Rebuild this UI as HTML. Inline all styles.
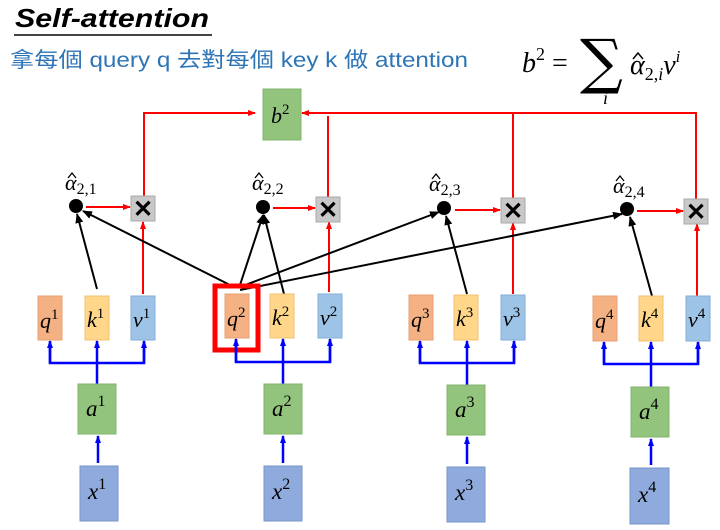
<!DOCTYPE html><html><head><style>body{margin:0;background:#fff}svg{display:block}</style></head><body>
<svg width="720" height="530" xmlns="http://www.w3.org/2000/svg" font-family="'Liberation Serif',serif">
<defs>
<marker id="r" markerWidth="8" markerHeight="8" refX="7" refY="4" orient="auto" markerUnits="userSpaceOnUse"><path d="M0,1 L8,4 L0,7z" fill="#f00"/></marker>
<marker id="b" markerWidth="8" markerHeight="8" refX="7" refY="4" orient="auto" markerUnits="userSpaceOnUse"><path d="M0,1 L8,4 L0,7z" fill="#00f"/></marker>
<marker id="k" markerWidth="10" markerHeight="10" refX="9" refY="5" orient="auto" markerUnits="userSpaceOnUse"><path d="M0,1 L10,5 L0,9z" fill="#000"/></marker>
</defs>
<text x="15" y="27" font-family="'Liberation Sans',sans-serif" font-size="26" font-weight="bold" font-style="italic" textLength="194" lengthAdjust="spacingAndGlyphs">Self-attention</text>
<line x1="14" y1="35" x2="212" y2="35" stroke="#444" stroke-width="2"/>
<text x="10" y="67" font-family="'Liberation Sans','Noto Sans CJK TC',sans-serif" font-size="21" fill="#2e75b6" textLength="458" lengthAdjust="spacingAndGlyphs">拿每個 query q 去對每個  key k 做 attention</text>
<text x="522" y="72" font-size="28" font-style="italic">b<tspan font-size="18" dy="-12" font-style="normal">2</tspan><tspan dy="12" font-style="normal"> = </tspan></text>
<text x="580" y="82" font-size="60" font-family="'DejaVu Serif',serif">∑</text>
<text x="603" y="104" font-size="18" font-style="italic">i</text>
<text x="630" y="74" font-size="28" font-style="italic">α<tspan font-size="18" dy="6" font-style="normal">2,</tspan><tspan font-size="18">i</tspan><tspan dy="-6">v</tspan><tspan font-size="17" dy="-12">i</tspan></text>
<path d="M633,59 L638,53 L643,59" fill="none" stroke="#000" stroke-width="1.5"/>

<rect x="263" y="89" width="38" height="51" fill="#93c47d" stroke="#82b36c"/>
<text x="271" y="123" font-size="22" font-style="italic">b<tspan font-size="15" dy="-9" font-style="normal">2</tspan></text>
<g stroke="#f00" stroke-width="2" fill="none">
<polyline points="144,196 144,113 255,113" marker-end="url(#r)"/>
<polyline points="696,199 696,113 302,113" marker-end="url(#r)"/>
<line x1="328" y1="197" x2="328" y2="116"/>
<line x1="513" y1="198" x2="513" y2="113"/>
<line x1="86" y1="207" x2="130" y2="207" marker-end="url(#r)"/>
<line x1="273" y1="208" x2="315" y2="208" marker-end="url(#r)"/>
<line x1="455" y1="210" x2="500" y2="210" marker-end="url(#r)"/>
<line x1="637" y1="211" x2="683" y2="211" marker-end="url(#r)"/>
<line x1="143" y1="294" x2="143" y2="222" marker-end="url(#r)"/>
<line x1="329" y1="292" x2="329" y2="222" marker-end="url(#r)"/>
<line x1="513" y1="294" x2="513" y2="223" marker-end="url(#r)"/>
<line x1="697" y1="296" x2="697" y2="224" marker-end="url(#r)"/>
</g>
<g fill="#c8c8c8" stroke="#aaa">
<rect x="131" y="196" width="24" height="25"/><rect x="316" y="197" width="24" height="25"/>
<rect x="501" y="198" width="24" height="25"/><rect x="684" y="199" width="24" height="25"/>
</g>
<g font-family="'Liberation Sans',sans-serif" font-size="24" font-weight="bold" text-anchor="middle">
<text x="143" y="217">✕</text><text x="328" y="218">✕</text><text x="513" y="219">✕</text><text x="696" y="220">✕</text>
</g>
<g fill="#000"><circle cx="76" cy="206" r="7"/><circle cx="263" cy="207" r="7"/><circle cx="444" cy="208" r="7"/><circle cx="627" cy="209" r="7"/></g>
<g font-size="22" font-style="italic">
<text x="65" y="190">α<tspan font-size="16" dy="4" font-style="normal">2,1</tspan></text>
<text x="252" y="190">α<tspan font-size="16" dy="4" font-style="normal">2,2</tspan></text>
<text x="429" y="191">α<tspan font-size="16" dy="4" font-style="normal">2,3</tspan></text>
<text x="613" y="193">α<tspan font-size="16" dy="4" font-style="normal">2,4</tspan></text>
</g>
<g fill="none" stroke="#000" stroke-width="1.3">
<path d="M68,178 L72,173 L76,178"/><path d="M255,178 L259,173 L263,178"/><path d="M432,179 L436,174 L440,179"/><path d="M616,181 L620,176 L624,181"/>
</g>
<g stroke="#000" stroke-width="2">
<line x1="97" y1="289" x2="77" y2="214" marker-end="url(#k)"/>
<line x1="234" y1="287" x2="83" y2="211" marker-end="url(#k)"/>
<line x1="239" y1="288" x2="263" y2="215" marker-end="url(#k)"/>
<line x1="284" y1="294" x2="264" y2="215" marker-end="url(#k)"/>
<line x1="240" y1="287" x2="439" y2="212" marker-end="url(#k)"/>
<line x1="240" y1="290" x2="622" y2="214" marker-end="url(#k)"/>
<line x1="467" y1="294" x2="446" y2="216" marker-end="url(#k)"/>
<line x1="652" y1="296" x2="630" y2="217" marker-end="url(#k)"/>
</g>
<g stroke-width="1">
<rect x="38" y="296" width="24" height="44" fill="#f4b183" stroke="#e8a070"/>
<rect x="85" y="296" width="24" height="44" fill="#ffd68a" stroke="#f0c070"/>
<rect x="131" y="296" width="24" height="44" fill="#9dc3e6" stroke="#85acd6"/>
<rect x="225" y="294" width="24" height="44" fill="#f4b183" stroke="#e8a070"/>
<rect x="270" y="294" width="24" height="44" fill="#ffd68a" stroke="#f0c070"/>
<rect x="318" y="294" width="24" height="44" fill="#9dc3e6" stroke="#85acd6"/>
<rect x="409" y="295" width="24" height="45" fill="#f4b183" stroke="#e8a070"/>
<rect x="454" y="295" width="24" height="45" fill="#ffd68a" stroke="#f0c070"/>
<rect x="501" y="295" width="24" height="45" fill="#9dc3e6" stroke="#85acd6"/>
<rect x="593" y="296" width="24" height="45" fill="#f4b183" stroke="#e8a070"/>
<rect x="639" y="296" width="24" height="45" fill="#ffd68a" stroke="#f0c070"/>
<rect x="686" y="296" width="24" height="45" fill="#9dc3e6" stroke="#85acd6"/>
</g>
<rect x="215" y="286" width="43" height="64" fill="none" stroke="#f00" stroke-width="5"/>
<g font-size="22" font-style="italic">
<text x="40" y="328">q<tspan font-size="15" dy="-9" font-style="normal">1</tspan></text>
<text x="87" y="327">k<tspan font-size="15" dy="-9" font-style="normal">1</tspan></text>
<text x="133" y="327">v<tspan font-size="15" dy="-9" font-style="normal">1</tspan></text>
<text x="227" y="326">q<tspan font-size="15" dy="-9" font-style="normal">2</tspan></text>
<text x="272" y="325">k<tspan font-size="15" dy="-9" font-style="normal">2</tspan></text>
<text x="320" y="325">v<tspan font-size="15" dy="-9" font-style="normal">2</tspan></text>
<text x="411" y="327">q<tspan font-size="15" dy="-9" font-style="normal">3</tspan></text>
<text x="456" y="326">k<tspan font-size="15" dy="-9" font-style="normal">3</tspan></text>
<text x="503" y="326">v<tspan font-size="15" dy="-9" font-style="normal">3</tspan></text>
<text x="595" y="328">q<tspan font-size="15" dy="-9" font-style="normal">4</tspan></text>
<text x="641" y="327">k<tspan font-size="15" dy="-9" font-style="normal">4</tspan></text>
<text x="688" y="327">v<tspan font-size="15" dy="-9" font-style="normal">4</tspan></text>
</g>
<g stroke="#00f" stroke-width="2.5" fill="none">
<polyline points="50,342 50,363 144,363 144,342"/>
<line x1="50" y1="363" x2="50" y2="341" marker-end="url(#b)"/><line x1="97" y1="384" x2="97" y2="341" marker-end="url(#b)"/><line x1="144" y1="363" x2="144" y2="341" marker-end="url(#b)"/>
<polyline points="236,340 236,362 330,362 330,340"/>
<line x1="236" y1="362" x2="236" y2="339" marker-end="url(#b)"/><line x1="283" y1="384" x2="283" y2="339" marker-end="url(#b)"/><line x1="330" y1="362" x2="330" y2="339" marker-end="url(#b)"/>
<polyline points="420,342 420,363 514,363 514,342"/>
<line x1="420" y1="363" x2="420" y2="341" marker-end="url(#b)"/><line x1="467" y1="385" x2="467" y2="341" marker-end="url(#b)"/><line x1="514" y1="363" x2="514" y2="341" marker-end="url(#b)"/>
<polyline points="604,343 604,364 698,364 698,343"/>
<line x1="604" y1="364" x2="604" y2="342" marker-end="url(#b)"/><line x1="651" y1="387" x2="651" y2="342" marker-end="url(#b)"/><line x1="698" y1="364" x2="698" y2="342" marker-end="url(#b)"/>
<line x1="98" y1="463" x2="98" y2="436" marker-end="url(#b)"/>
<line x1="283" y1="463" x2="283" y2="436" marker-end="url(#b)"/>
<line x1="467" y1="464" x2="467" y2="437" marker-end="url(#b)"/>
<line x1="651" y1="465" x2="651" y2="439" marker-end="url(#b)"/>
</g>
<g fill="#93c47d" stroke="#82b36c">
<rect x="78" y="384" width="38" height="50"/><rect x="264" y="384" width="38" height="50"/>
<rect x="447" y="385" width="38" height="50"/><rect x="631" y="387" width="38" height="50"/>
</g>
<g fill="#8faadc" stroke="#7a96c8">
<rect x="80" y="466" width="38" height="55"/><rect x="264" y="466" width="38" height="55"/>
<rect x="447" y="467" width="38" height="55"/><rect x="630" y="468" width="39" height="56"/>
</g>
<g font-size="23" font-style="italic">
<text x="86" y="416">a<tspan font-size="16" dy="-10" font-style="normal">1</tspan></text>
<text x="272" y="416">a<tspan font-size="16" dy="-10" font-style="normal">2</tspan></text>
<text x="455" y="417">a<tspan font-size="16" dy="-10" font-style="normal">3</tspan></text>
<text x="639" y="419">a<tspan font-size="16" dy="-10" font-style="normal">4</tspan></text>
<text x="88" y="499">x<tspan font-size="16" dy="-10" font-style="normal">1</tspan></text>
<text x="272" y="499">x<tspan font-size="16" dy="-10" font-style="normal">2</tspan></text>
<text x="455" y="500">x<tspan font-size="16" dy="-10" font-style="normal">3</tspan></text>
<text x="638" y="502">x<tspan font-size="16" dy="-10" font-style="normal">4</tspan></text>
</g>
</svg>
</body></html>
